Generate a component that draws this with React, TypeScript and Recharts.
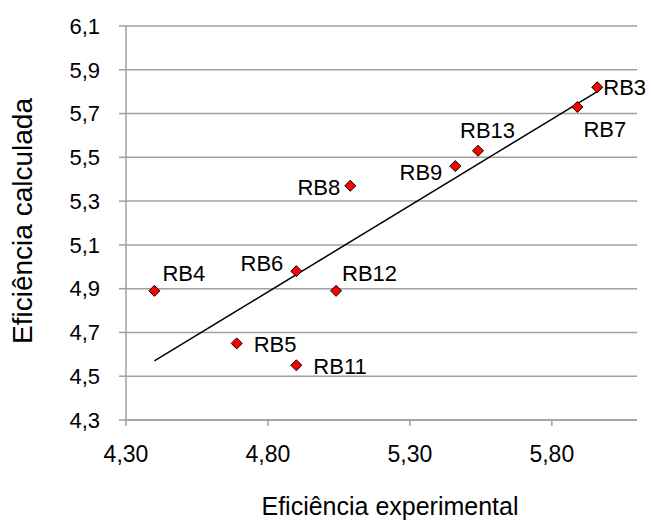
import { ScatterChart, Scatter, XAxis, YAxis, CartesianGrid, LabelList, Label } from "recharts";

const names = ["RB3", "RB4", "RB5", "RB6", "RB7", "RB8", "RB9", "RB11", "RB12", "RB13"];
const experimental = [5.96, 4.4, 4.69, 4.9, 5.89, 5.09, 5.46, 4.9, 5.04, 5.54];
const calculated = [5.82, 4.89, 4.65, 4.98, 5.73, 5.37, 5.46, 4.55, 4.89, 5.53];

const trendX = [4.4, 5.96];
const trendY = [4.57, 5.8];

const xTicks = [4.3, 4.8, 5.3, 5.8];
const yTicks = [4.3, 4.5, 4.7, 4.9, 5.1, 5.3, 5.5, 5.7, 5.9, 6.1];

const points = names.map((name, i) => ({ name, x: experimental[i], y: calculated[i] }));
const trend = trendX.map((x, i) => ({ x, y: trendY[i] }));

// where each data label sits relative to its marker
const labelPos: Record<string, { dx: number; dy: number; anchor: "start" | "end" }> = {
  RB3: { dx: 6, dy: 8, anchor: "start" },
  RB7: { dx: 6, dy: 30, anchor: "start" },
  RB13: { dx: -18, dy: -13, anchor: "start" },
  RB9: { dx: -13, dy: 14, anchor: "end" },
  RB8: { dx: -10, dy: 9, anchor: "end" },
  RB6: { dx: -13, dy: 0, anchor: "end" },
  RB12: { dx: 6, dy: -10, anchor: "start" },
  RB4: { dx: 8, dy: -10, anchor: "start" },
  RB5: { dx: 17, dy: 9, anchor: "start" },
  RB11: { dx: 17, dy: 9, anchor: "start" },
};

const font = "Arial, 'Liberation Sans', sans-serif";
const gray = "#a0a0a0";

const Diamond = (props: any) => {
  const { cx, cy } = props;
  const s = 5.5;
  return (
    <polygon
      points={`${cx},${cy - s} ${cx + s},${cy} ${cx},${cy + s} ${cx - s},${cy}`}
      fill="#ff0000"
      stroke="#000"
      strokeWidth={1}
    />
  );
};

const PointLabel = (props: any) => {
  const { x, y, width, height, value } = props;
  const p = labelPos[value] || { dx: 8, dy: 0, anchor: "start" };
  const cx = x + (width || 0) / 2;
  const cy = y + (height || 0) / 2;
  return (
    <text x={cx + p.dx} y={cy + p.dy} textAnchor={p.anchor} fontSize={22} fontFamily={font} fill="#000">
      {value}
    </text>
  );
};

const comma = (v: number, d: number) => v.toFixed(d).replace(".", ",");

export default function App() {
  return (
    <div style={{ position: "absolute", left: 0, top: 0, background: "#fff" }}>
      <ScatterChart width={651} height={523} margin={{ top: 26, right: 14, left: 0, bottom: 0 }}>
        <CartesianGrid vertical={false} stroke={gray} strokeWidth={1.5} />
        <XAxis
          type="number"
          dataKey="x"
          domain={[4.3, 6.1]}
          ticks={xTicks}
          tickFormatter={(v) => comma(v, 2)}
          height={103}
          stroke={gray}
          strokeWidth={1.5}
          tickSize={6}
          tickMargin={20}
          tick={{ fill: "#000", fontSize: 23, fontFamily: font }}
          allowDataOverflow
        >
          <Label
            content={() => (
              <text x={390} y={515} textAnchor="middle" fontSize={25} fontFamily={font} fill="#000">
                Eficiência experimental
              </text>
            )}
          />
        </XAxis>
        <YAxis
          type="number"
          dataKey="y"
          domain={[4.3, 6.1]}
          ticks={yTicks}
          tickFormatter={(v) => comma(v, 1)}
          width={126}
          stroke={gray}
          strokeWidth={1.5}
          tickSize={7}
          tickMargin={19}
          tick={{ fill: "#000", fontSize: 22, fontFamily: font }}
          allowDataOverflow
        >
          <Label
            content={() => (
              <text
                x={22}
                y={221}
                transform="rotate(-90 22 221)"
                textAnchor="middle"
                dominantBaseline="central"
                fontSize={28}
                fontFamily={font}
                fill="#000"
              >
                Eficiência calculada
              </text>
            )}
          />
        </YAxis>
        <Scatter
          data={trend}
          line={{ stroke: "#000", strokeWidth: 1.5 }}
          shape={() => null}
          isAnimationActive={false}
        />
        <Scatter data={points} shape={Diamond} isAnimationActive={false}>
          <LabelList dataKey="name" content={PointLabel} />
        </Scatter>
      </ScatterChart>
    </div>
  );
}
